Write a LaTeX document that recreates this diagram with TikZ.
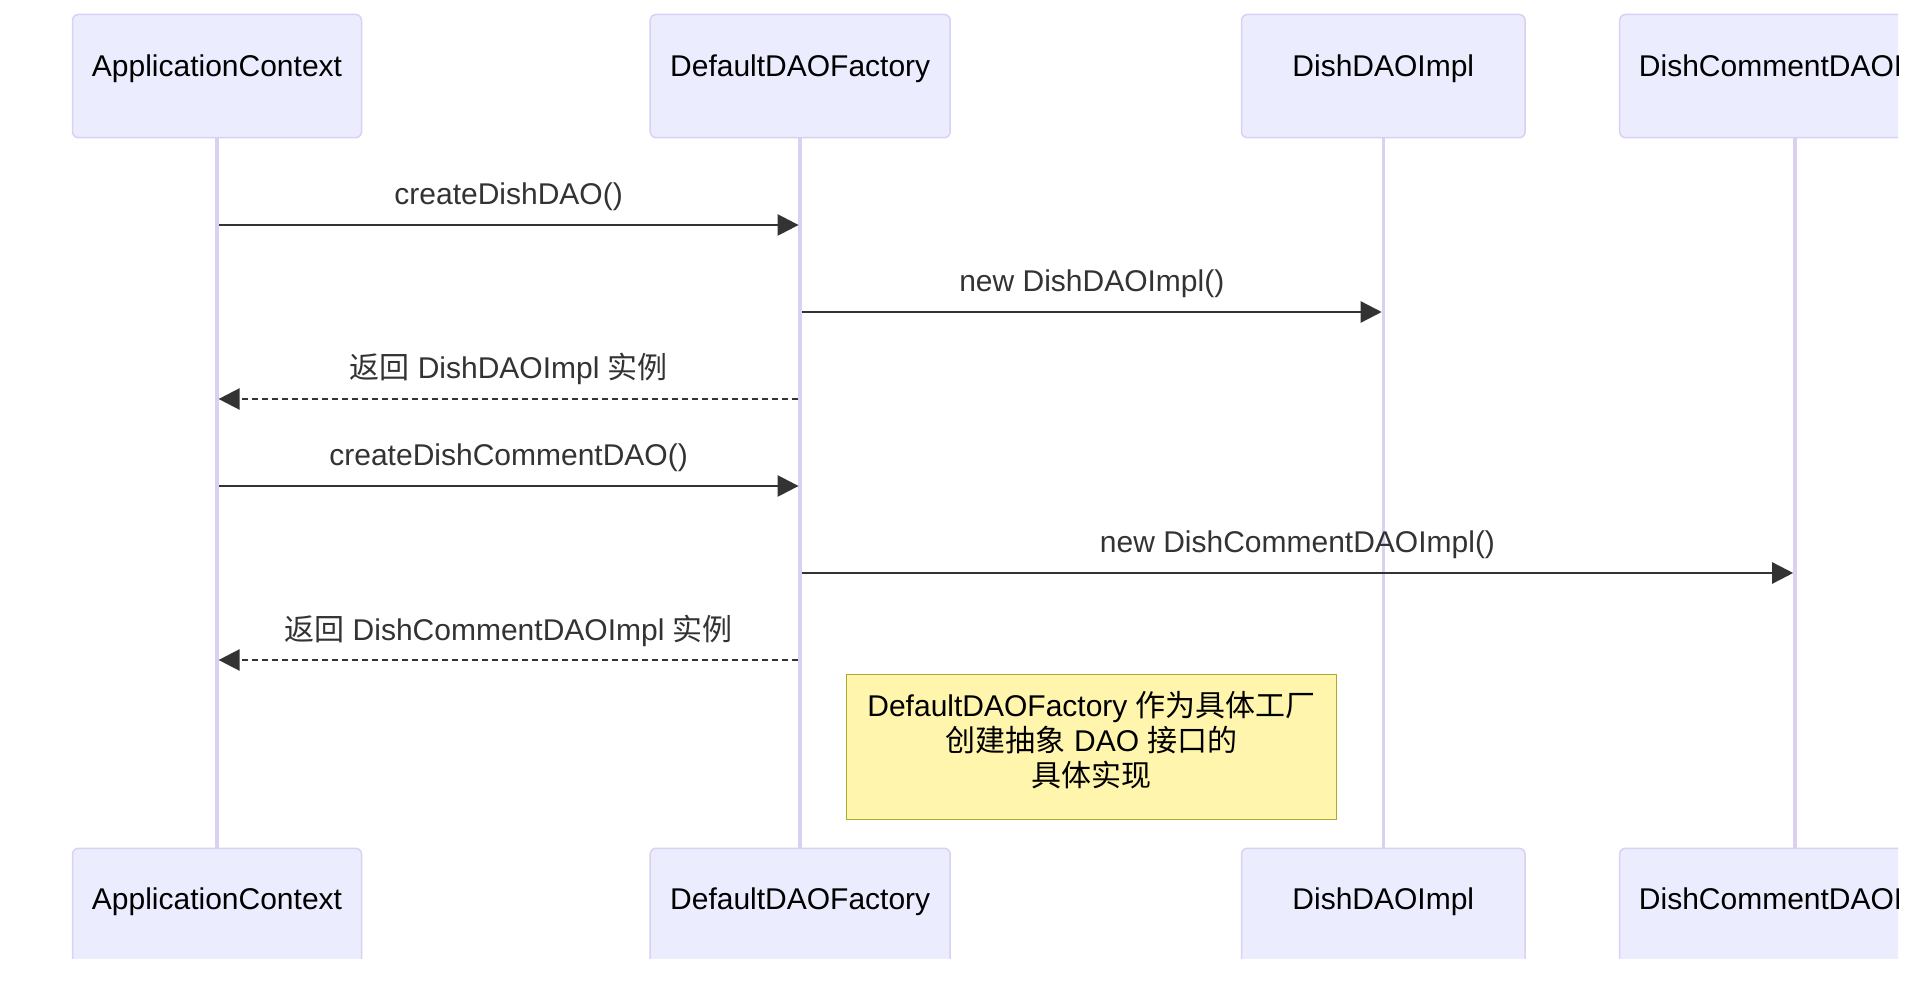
\documentclass[tikz,border=0pt]{standalone}
\usepackage{fontspec}
\setmainfont{Liberation Sans}
\newfontfamily\cjk{Noto Sans CJK SC}
\newcommand{\zh}[1]{{\cjk #1}}
\usetikzlibrary{arrows.meta}

\definecolor{actorfill}{HTML}{ECECFF}
\definecolor{actorline}{HTML}{D9D0F2}
\definecolor{msgline}{HTML}{333333}
\definecolor{notefill}{HTML}{FFF5AD}
\definecolor{noteline}{HTML}{AAAA33}

\begin{document}
\begin{tikzpicture}[x=0.5pt, y=-0.5pt, font=\fontsize{15pt}{17.5pt}\selectfont]
      \tikzstyle{actor} = [rectangle, rounded corners=3pt, draw=actorline, line width=0.75pt, fill=actorfill, minimum height=61.6pt, text height=6pt, text depth=6pt, inner sep=0pt, text=black]
      \tikzstyle{lifeline} = [draw=actorline, line width=1.75pt]
      \tikzstyle{arrow} = [line width=1.25pt, draw=msgline, -{Triangle[length=10.5pt, width=10.5pt]}, shorten >=0.8pt, shorten <=1pt]
      \tikzstyle{reply} = [arrow, dash pattern=on 3pt off 2pt]
      \tikzstyle{msglabel} = [anchor=base, inner sep=0pt, text=msgline]
      \tikzstyle{notebox} = [rectangle, draw=noteline, fill=notefill, line width=0.75pt, minimum width=244.9pt, minimum height=72.5pt]
      \tikzstyle{notetext} = [align=center, inner sep=0pt, text=black]
      \useasboundingbox (0,0) rectangle (1928,988);
      \fill[white] (0,0) rectangle (1928,988);
      \clip (0,0) rectangle (1898,958);
      % participants, top and bottom
      \node (ac-top) [actor, minimum width=144.5pt] at (217,76.1) {ApplicationContext};
      \node (df-top) [actor, minimum width=150pt] at (800.2,76.1) {DefaultDAOFactory};
      \node (dd-top) [actor, minimum width=141.8pt] at (1383.3,76.1) {DishDAOImpl};
      \node (dc-top) [actor, minimum width=175.2pt] at (1794.8,76.1) {DishCommentDAOImpl};
      \node (ac-bot) [actor, minimum width=144.5pt] at (217,909.9) {ApplicationContext};
      \node (df-bot) [actor, minimum width=150pt] at (800.2,909.9) {DefaultDAOFactory};
      \node (dd-bot) [actor, minimum width=141.8pt] at (1383.3,909.9) {DishDAOImpl};
      \node (dc-bot) [actor, minimum width=175.2pt] at (1794.8,909.9) {DishCommentDAOImpl};
      \draw [lifeline] (ac-top) -- (ac-bot);
      \draw [lifeline] (df-top) -- (df-bot);
      \draw [lifeline] (dd-top) -- (dd-bot);
      \draw [lifeline] (dc-top) -- (dc-bot);
      % message ends on the lifelines
      \coordinate (ac-m1) at (217,225);
      \coordinate (df-m1) at (800.2,225);
      \coordinate (df-m2) at (800.2,312);
      \coordinate (dd-m2) at (1383.3,312);
      \coordinate (df-m3) at (800.2,399);
      \coordinate (ac-m3) at (217,399);
      \coordinate (ac-m4) at (217,486);
      \coordinate (df-m4) at (800.2,486);
      \coordinate (df-m5) at (800.2,573);
      \coordinate (dc-m5) at (1794.8,573);
      \coordinate (df-m6) at (800.2,660);
      \coordinate (ac-m6) at (217,660);
      \draw [arrow] (ac-m1) -- (df-m1);
      \draw [arrow] (df-m2) -- (dd-m2);
      \draw [reply] (df-m3) -- (ac-m3);
      \draw [arrow] (ac-m4) -- (df-m4);
      \draw [arrow] (df-m5) -- (dc-m5);
      \draw [reply] (df-m6) -- (ac-m6);
      \node (l1) [msglabel] at (508.6,205) {createDishDAO()};
      \node (l2) [msglabel] at (1091.8,292) {new DishDAOImpl()};
      \node (l3) [msglabel] at (508.6,379) {\zh{返回} DishDAOImpl \zh{实例}};
      \node (l4) [msglabel] at (508.6,466) {createDishCommentDAO()};
      \node (l5) [msglabel] at (1297.5,553) {new DishCommentDAOImpl()};
      \node (l6) [msglabel] at (508.6,640) {\zh{返回} DishCommentDAOImpl \zh{实例}};
      % note
      \node (note) [notebox] at (1091.6,746.8) {};
      \node (note-text) [notetext] at ([yshift=3.2pt]note.center) {DefaultDAOFactory \zh{作为具体工厂}\\\zh{创建抽象} DAO \zh{接口的}\\\zh{具体实现}};
\end{tikzpicture}
\end{document}
